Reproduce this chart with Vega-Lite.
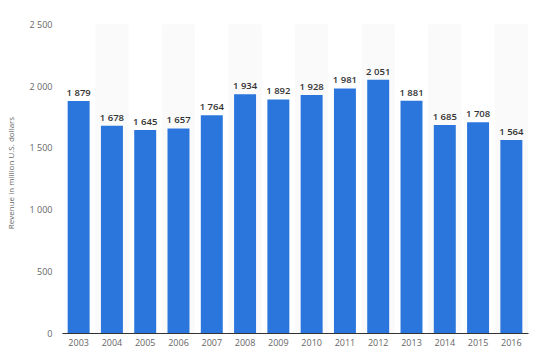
{
  "$schema": "https://vega.github.io/schema/vega-lite/v6.json",
  "width": 466,
  "height": 321,
  "autosize": {"type": "none"},
  "padding": {"left": 62, "top": 12, "right": 10, "bottom": 20},
  "config": {
    "locale": {"number": {"decimal": ".", "thousands": " ", "grouping": [3], "currency": ["$", ""]}},
    "view": {"stroke": null},
    "font": "Open Sans",
    "axis": {"labelFont": "Open Sans", "titleFont": "Open Sans"}
  },
  "data": {
    "values": [
      {"year": "2003", "revenue": 1879},
      {"year": "2004", "revenue": 1678},
      {"year": "2005", "revenue": 1645},
      {"year": "2006", "revenue": 1657},
      {"year": "2007", "revenue": 1764},
      {"year": "2008", "revenue": 1934},
      {"year": "2009", "revenue": 1892},
      {"year": "2010", "revenue": 1928},
      {"year": "2011", "revenue": 1981},
      {"year": "2012", "revenue": 2051},
      {"year": "2013", "revenue": 1881},
      {"year": "2014", "revenue": 1685},
      {"year": "2015", "revenue": 1708},
      {"year": "2016", "revenue": 1564}
    ]
  },
  "encoding": {
    "x": {
      "field": "year", "type": "nominal",
      "scale": {"paddingInner": 0, "paddingOuter": 0},
      "axis": {"title": null, "labelAngle": 0, "labelColor": "#666666", "labelFontSize": 9, "labelPadding": 5, "ticks": false, "domainColor": "#333333", "domainWidth": 1, "grid": false}
    }
  },
  "layer": [
    {
      "transform": [{"filter": "toNumber(datum.year) % 2 == 0"}],
      "mark": {"type": "bar", "color": "#fafafa", "width": {"band": 1}},
      "encoding": {
        "y": {"datum": 2500, "type": "quantitative"},
        "y2": {"datum": 0}
      }
    },
    {
      "mark": {"type": "bar", "color": "#2a76dd", "width": {"band": 0.66}},
      "encoding": {
        "y": {
          "field": "revenue", "type": "quantitative",
          "scale": {"domain": [0, 2500]},
          "axis": {"title": "Revenue in million U.S. dollars", "titleFontSize": 8, "titleColor": "#666666", "titleFontWeight": "normal", "titlePadding": 14, "labelColor": "#666666", "labelFontSize": 9, "labelPadding": 10, "values": [0, 500, 1000, 1500, 2000, 2500], "format": ",d", "ticks": false, "domain": false, "gridColor": "#e8e8e8", "gridWidth": 1}
        }
      }
    },
    {
      "mark": {"type": "text", "dy": -8, "fontSize": 9.5, "fontWeight": 600, "color": "#333333"},
      "encoding": {
        "y": {"field": "revenue", "type": "quantitative"},
        "text": {"field": "revenue", "type": "quantitative", "format": ",d"}
      }
    }
  ]
}
